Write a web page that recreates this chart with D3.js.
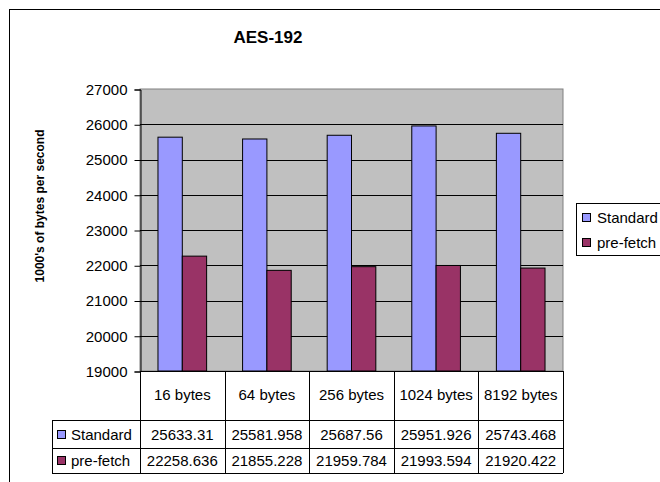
<!DOCTYPE html>
<html>
<head>
<meta charset="utf-8">
<script src="https://cdn.jsdelivr.net/npm/d3@7"></script>
<style>
  body { margin: 0; background: #fff; }
  svg { font-family: "Liberation Sans", Arial, sans-serif; }
</style>
</head>
<body>
<div class="chart"></div>
<script>
// chart data
const categories = ["16 bytes", "64 bytes", "256 bytes", "1024 bytes", "8192 bytes"];
const seriesNames = ["Standard", "pre-fetch"];
const standard = [25633.31, 25581.958, 25687.56, 25951.926, 25743.468];
const prefetch = [22258.636, 21855.228, 21959.784, 21993.594, 21920.422];
const yTicks = [19000, 20000, 21000, 22000, 23000, 24000, 25000, 26000, 27000];
const colors = ["#9999FF", "#993366"];

const width = 660, height = 482;
const plot = { left: 140, top: 89, right: 563, bottom: 371 };
const fontSize = 15;

const svg = d3.select(".chart").append("svg")
  .attr("width", width)
  .attr("height", height);

// outer chart border
svg.append("rect")
  .attr("x", 9.5).attr("y", 9.5)
  .attr("width", 700).attr("height", 500)
  .attr("fill", "none").attr("stroke", "#000").attr("stroke-width", 1);

// title
svg.append("text")
  .attr("x", 268).attr("y", 43)
  .attr("text-anchor", "middle")
  .attr("font-size", 17).attr("font-weight", "bold")
  .text("AES-192");

// scales
const x0 = d3.scaleBand().domain(categories).range([plot.left, plot.right]).padding(0);
const y = d3.scaleLinear().domain([19000, 27000]).range([plot.bottom, plot.top]);
const barW = x0.bandwidth() * 0.2875;
const groupOffset = (x0.bandwidth() - barW * 2) / 2;

// plot area background
svg.append("rect")
  .attr("x", plot.left).attr("y", plot.top)
  .attr("width", plot.right - plot.left).attr("height", plot.bottom - plot.top)
  .attr("fill", "#C0C0C0")
  .attr("stroke", "#808080");

// gridlines
svg.append("g")
  .selectAll("line")
  .data(yTicks.slice(1, -1))
  .enter().append("line")
  .attr("x1", plot.left).attr("x2", plot.right)
  .attr("y1", d => Math.round(y(d)) + 0.5).attr("y2", d => Math.round(y(d)) + 0.5)
  .attr("stroke", "#000");

// y axis
const yAxis = d3.axisLeft(y).tickValues(yTicks).tickSize(6).tickPadding(7).tickFormat(d3.format("d"));
const yG = svg.append("g")
  .attr("transform", "translate(" + (plot.left + 0.5) + ",0.5)")
  .call(yAxis);
yG.attr("font-size", fontSize).attr("font-family", "Liberation Sans, Arial, sans-serif");
yG.selectAll("text").attr("fill", "#000");
yG.selectAll("line, path").attr("stroke", "#000");

// y axis label
svg.append("text")
  .attr("transform", "translate(44,206) rotate(-90)")
  .attr("text-anchor", "middle")
  .attr("font-size", 12).attr("font-weight", "bold")
  .text("1000's of bytes per second");

// bars
const seriesData = [standard, prefetch];
seriesData.forEach((vals, s) => {
  svg.append("g")
    .selectAll("rect")
    .data(vals)
    .enter().append("rect")
    .attr("x", (d, i) => x0(categories[i]) + groupOffset + s * barW)
    .attr("y", d => y(d))
    .attr("width", barW)
    .attr("height", d => y(19000) - y(d))
    .attr("fill", colors[s])
    .attr("stroke", "#000")
    .attr("stroke-width", 1);
});

// data table under the plot
const rowMids = [394, 434, 460];
const tableLeft = 52;
const table = svg.append("g").attr("stroke", "#000").attr("stroke-width", 1);

// horizontal lines
table.append("line")
  .attr("x1", plot.left).attr("x2", plot.right)
  .attr("y1", plot.bottom + 0.5).attr("y2", plot.bottom + 0.5);
[420, 448, 473].forEach(yy => {
  table.append("line")
    .attr("x1", tableLeft).attr("x2", plot.right)
    .attr("y1", yy + 0.5).attr("y2", yy + 0.5);
});
// vertical lines
const bounds = categories.map(c => x0(c)).concat([plot.right]);
bounds.forEach(xx => {
  table.append("line")
    .attr("x1", Math.round(xx) + 0.5).attr("x2", Math.round(xx) + 0.5)
    .attr("y1", plot.bottom).attr("y2", 473);
});
table.append("line")
  .attr("x1", tableLeft + 0.5).attr("x2", tableLeft + 0.5)
  .attr("y1", 420).attr("y2", 473);

// category labels
svg.append("g")
  .selectAll("text")
  .data(categories)
  .enter().append("text")
  .attr("x", d => x0(d) + x0.bandwidth() / 2)
  .attr("y", rowMids[0] + 5.5)
  .attr("text-anchor", "middle")
  .attr("font-size", fontSize)
  .text(d => d);

// value rows
seriesData.forEach((vals, s) => {
  const rowMid = rowMids[s + 1];
  svg.append("g")
    .selectAll("text")
    .data(vals)
    .enter().append("text")
    .attr("x", (d, i) => x0(categories[i]) + x0.bandwidth() / 2)
    .attr("y", rowMid + 5.5)
    .attr("text-anchor", "middle")
    .attr("font-size", fontSize)
    .text(d => String(d));
  // legend key in table
  svg.append("rect")
    .attr("x", 57.5).attr("y", rowMid - 3.5)
    .attr("width", 8).attr("height", 8)
    .attr("fill", colors[s]).attr("stroke", "#000");
  svg.append("text")
    .attr("x", 71).attr("y", rowMid + 5.5)
    .attr("font-size", fontSize)
    .text(seriesNames[s]);
});

// legend
const legend = svg.append("g");
legend.append("rect")
  .attr("x", 576.5).attr("y", 203.5)
  .attr("width", 100).attr("height", 52)
  .attr("fill", "#fff").attr("stroke", "#000");
seriesNames.forEach((name, s) => {
  const ly = 217 + s * 25;
  legend.append("rect")
    .attr("x", 582.5).attr("y", ly - 3.5)
    .attr("width", 8).attr("height", 8)
    .attr("fill", colors[s]).attr("stroke", "#000");
  legend.append("text")
    .attr("x", 597).attr("y", ly + 5.5)
    .attr("font-size", fontSize)
    .text(name);
});
</script>
</body>
</html>
